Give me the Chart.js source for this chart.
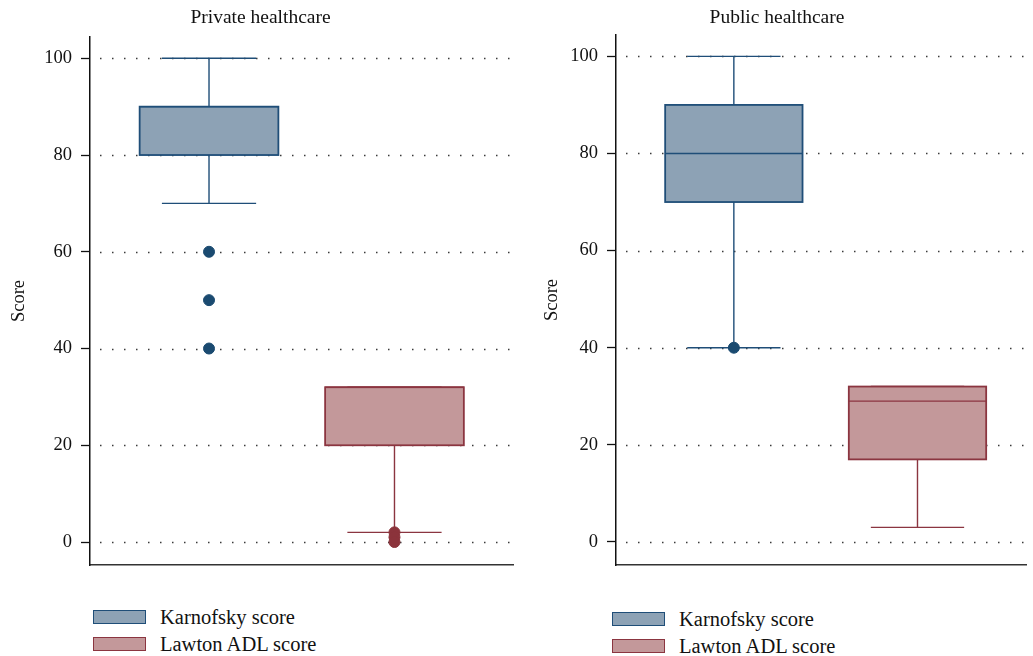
<!DOCTYPE html>
<html>
<head>
<meta charset="utf-8">
<script src="https://cdn.jsdelivr.net/npm/chart.js@4"></script>
<style>
  html, body { margin: 0; padding: 0; background: #fff; }
  body { width: 1033px; height: 656px; position: relative; overflow: hidden; font-family: "Liberation Serif", "DejaVu Serif", serif; }
  .panel { position: absolute; top: 0; }
  .legend { position: absolute; font-size: 20.5px; color: #111; }
  .item { position: absolute; white-space: nowrap; }
  .sw { position: absolute; width: 51px; height: 12px; border: 1.5px solid; }
  .lbl { position: absolute; line-height: 20px; }
</style>
</head>
<body>
<div class="panel" id="p0" style="left:0;width:520px;height:590px;"><canvas id="c0"></canvas></div>
<div class="panel" id="p1" style="left:520px;width:513px;height:590px;"><canvas id="c1"></canvas></div>
<div id="legends"></div>
<script>
// ---- data ----
const categories = ['Karnofsky score', 'Lawton ADL score'];
const panelTitles = ['Private healthcare', 'Public healthcare'];
const yTickValues = [0, 20, 40, 60, 80, 100];

const privateMin = [70, 2];
const privateQ1 = [80, 20];
const privateMedian = [90, 32];
const privateQ3 = [90, 32];
const privateMax = [100, 32];
const privateOutliers = [[60, 50, 40], [2, 1, 0]];

const publicMin = [40, 3];
const publicQ1 = [70, 17];
const publicMedian = [80, 29];
const publicQ3 = [90, 32];
const publicMax = [100, 32];
const publicOutliers = [[40], []];

// ---- styles ----
const fills = ['#8da2b5', '#c3989a'];
const strokes = ['#1f4e78', '#8b3540'];
const dotColors = ['#1a4a70', '#8b333b'];

const panels = [
  { canvas: 'c0', title: panelTitles[0], min: privateMin, q1: privateQ1, med: privateMedian, q3: privateQ3, max: privateMax, out: privateOutliers,
    axisW: 90, xMin: 1 - 120/187, xMax: 2 + 120/187, titlePadB: 7.6, yTitlePad: 8, legendLeft: 93, legendTop: 610, gridEnd: 515 },
  { canvas: 'c1', title: panelTitles[1], min: publicMin, q1: publicQ1, med: publicMedian, q3: publicQ3, max: publicMax, out: publicOutliers,
    axisW: 96, xMin: 1 - 120/187, xMax: 2 + 111/187, titlePadB: 5.6, yTitlePad: 21, legendLeft: 612, legendTop: 612, gridEnd: 506 }
];

const boxHalf = 0.374;   // in x-units
const capHalf = 0.254;

const boxPlugin = {
  id: 'boxes',
  beforeDatasetsDraw(chart) {
    const p = chart.options.plugins.boxes.panel;
    const {ctx, chartArea} = chart;
    const xs = chart.scales.x, ys = chart.scales.y;
    // dotted grid lines
    ctx.save();
    ctx.strokeStyle = '#3a3a3a';
    ctx.lineWidth = 1.4;
    ctx.setLineDash([1.5, 10.5]);
    ctx.lineDashOffset = 2;
    yTickValues.forEach(v => {
      const y = Math.round(ys.getPixelForValue(v)) + 0.5;
      ctx.beginPath();
      ctx.moveTo(chartArea.left, y);
      ctx.lineTo(Math.min(chartArea.right - 1, p.gridEnd), y);
      ctx.stroke();
    });
    ctx.restore();
    // boxes
    categories.forEach((c, i) => {
      const xc = xs.getPixelForValue(i + 1);
      const bl = xs.getPixelForValue(i + 1 - boxHalf), br = xs.getPixelForValue(i + 1 + boxHalf);
      const cl = xs.getPixelForValue(i + 1 - capHalf), cr = xs.getPixelForValue(i + 1 + capHalf);
      const yq1 = ys.getPixelForValue(p.q1[i]), yq3 = ys.getPixelForValue(p.q3[i]);
      const ymed = ys.getPixelForValue(p.med[i]);
      const ymin = ys.getPixelForValue(p.min[i]), ymax = ys.getPixelForValue(p.max[i]);
      ctx.save();
      ctx.strokeStyle = strokes[i];
      ctx.lineWidth = 1.4;
      // whiskers
      ctx.beginPath();
      ctx.moveTo(xc, yq1); ctx.lineTo(xc, ymin);
      ctx.moveTo(xc, yq3); ctx.lineTo(xc, ymax);
      ctx.moveTo(cl, ymin); ctx.lineTo(cr, ymin);
      ctx.moveTo(cl, ymax); ctx.lineTo(cr, ymax);
      ctx.stroke();
      // box
      ctx.fillStyle = fills[i];
      ctx.fillRect(bl, yq3, br - bl, yq1 - yq3);
      ctx.lineWidth = 1.8;
      ctx.strokeRect(bl, yq3, br - bl, yq1 - yq3);
      // median
      ctx.lineWidth = 1.4;
      ctx.beginPath();
      ctx.moveTo(bl, ymed); ctx.lineTo(br, ymed);
      ctx.stroke();
      ctx.restore();
    });
  }
};

panels.forEach(p => {
  const datasets = categories.map((c, i) => ({
    label: c,
    type: 'scatter',
    data: p.out[i].map(v => ({ x: i + 1, y: v })),
    pointRadius: 5.5,
    pointHoverRadius: 5.5,
    pointBackgroundColor: dotColors[i],
    pointBorderColor: dotColors[i],
    pointBorderWidth: 1
  }));
  new Chart(document.getElementById(p.canvas), {
    type: 'scatter',
    data: { datasets },
    plugins: [boxPlugin],
    options: {
      responsive: true,
      maintainAspectRatio: false,
      animation: false,
      events: [],
      layout: { padding: { top: 0, right: -1, bottom: 25, left: 0 } },
      plugins: {
        legend: { display: false },
        tooltip: { enabled: false },
        title: {
          display: true, text: p.title, color: '#111',
          font: { family: '"Liberation Serif", serif', size: 19.5, weight: 'normal' },
          padding: { top: 6, bottom: p.titlePadB }
        },
        boxes: { panel: p }
      },
      scales: {
        x: {
          type: 'linear', min: p.xMin, max: p.xMax,
          ticks: { display: false },
          grid: { display: false },
          border: { display: true, color: '#333', width: 1.5 },
          afterFit(s) { s.height = 0; }
        },
        y: {
          type: 'linear', min: -4.75, max: 104.4,
          afterBuildTicks(s) { s.ticks = yTickValues.map(v => ({ value: v })); },
          ticks: {
            color: '#111', padding: 9,
            font: { family: '"Liberation Serif", serif', size: 18.5 }
          },
          grid: { drawOnChartArea: false, drawTicks: true, tickLength: 9, tickColor: '#111', tickWidth: 1.3 },
          border: { display: true, color: '#111', width: 1.5 },
          title: {
            display: true, text: 'Score', color: '#111',
            font: { family: '"Liberation Serif", serif', size: 18.5 },
            padding: { top: p.yTitlePad, bottom: 0 }
          },
          afterFit(s) { s.width = p.axisW; }
        }
      }
    }
  });

  // HTML legend
  const lg = document.createElement('div');
  lg.className = 'legend';
  lg.style.left = p.legendLeft + 'px';
  lg.style.top = p.legendTop + 'px';
  categories.forEach((c, i) => {
    const it = document.createElement('div');
    it.className = 'item';
    it.style.top = (i * 26.5) + 'px';
    it.style.left = '0px';
    const sw = document.createElement('div');
    sw.className = 'sw';
    sw.style.background = fills[i];
    sw.style.borderColor = strokes[i];
    sw.style.left = '0px'; sw.style.top = '0px';
    const lb = document.createElement('div');
    lb.className = 'lbl';
    lb.textContent = c;
    lb.style.left = '67px'; lb.style.top = '-3px';
    it.appendChild(sw); it.appendChild(lb);
    lg.appendChild(it);
  });
  document.getElementById('legends').appendChild(lg);
});
</script>
</body>
</html>
